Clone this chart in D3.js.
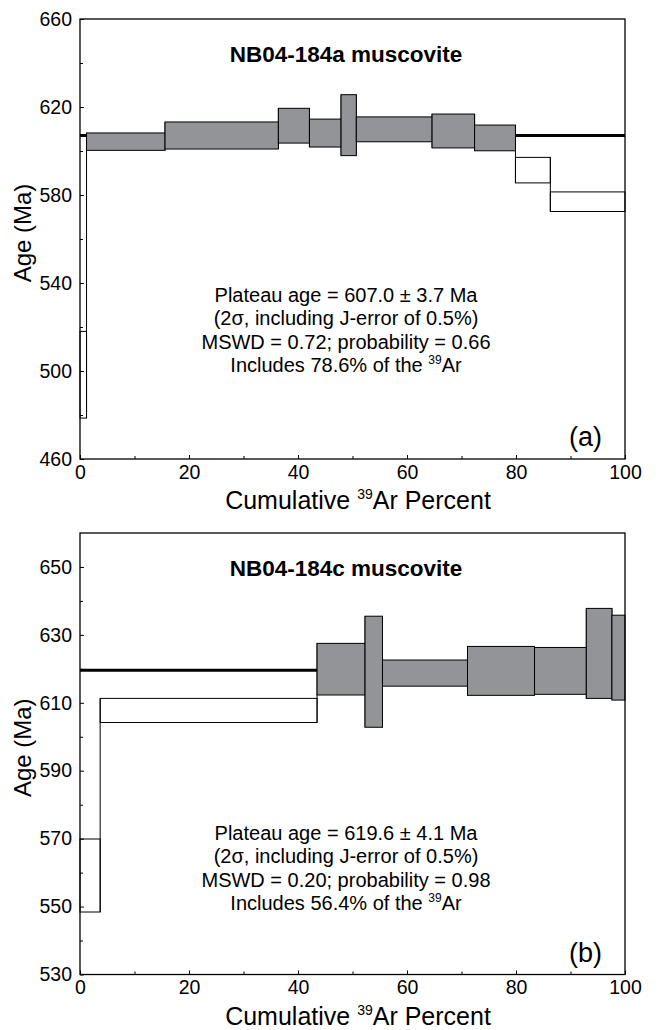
<!DOCTYPE html>
<html>
<head>
<meta charset="utf-8">
<script src="https://cdnjs.cloudflare.com/ajax/libs/d3/7.8.5/d3.min.js"></script>
<style>
  body { margin: 0; background: #fff; }
  svg { display: block; font-family: "Liberation Sans", Arial, sans-serif; }
</style>
</head>
<body>
<svg id="chart"></svg>
<script>
// ---- panel (a) ----
let topTitle = 'NB04-184a muscovite';
let topCum = [0, 1.2, 15.6, 36.4, 42.1, 47.9, 50.7, 64.6, 72.4, 79.9, 86.3, 100];
let topLow = [478.6, 600.3, 600.9, 603.6, 601.8, 597.9, 604.2, 601.4, 600.1, 585.5, 572.5];
let topHigh = [518.0, 608.2, 613.2, 619.4, 614.5, 625.6, 615.5, 616.8, 611.8, 597.1, 581.4];
let topPlateauSteps = [false, true, true, true, true, true, true, true, true, false, false];
let topPlateauAge = 607.0;
let topYDomain = [460, 660];
let topYTicks = [460, 500, 540, 580, 620, 660];
let topYMinor = [480, 520, 560, 600, 640];
let topNotes = ['Plateau age = 607.0 \u00b1 3.7 Ma', '(2\u03c3, including J-error of 0.5%)', 'MSWD = 0.72; probability = 0.66', 'Includes 78.6% of the '];
let topTag = '(a)';

// ---- panel (b) ----
let botTitle = 'NB04-184c muscovite';
let botCum = [0, 3.7, 43.5, 52.3, 55.5, 71.1, 83.4, 92.9, 97.6, 100];
let botLow = [548.4, 604.2, 612.3, 602.8, 614.9, 612.2, 612.5, 611.3, 610.8];
let botHigh = [569.9, 611.3, 627.5, 635.5, 622.6, 626.6, 626.3, 637.8, 635.8];
let botPlateauSteps = [false, false, true, true, true, true, true, true, true];
let botPlateauAge = 619.6;
let botYDomain = [530, 660];
let botYTicks = [530, 550, 570, 590, 610, 630, 650];
let botYMinor = [540, 560, 580, 600, 620, 640];
let botNotes = ['Plateau age = 619.6 \u00b1 4.1 Ma', '(2\u03c3, including J-error of 0.5%)', 'MSWD = 0.20; probability = 0.98', 'Includes 56.4% of the '];
let botTag = '(b)';

// shared x axis
let xTicks = [0, 20, 40, 60, 80, 100];
let xMinor = [10, 30, 50, 70, 90];

let width = 659;
let height = 1030;
let left = 80;
let right = 625;
let grey = '#939497';

let svg = d3.select('#chart')
    .attr('width', width)
    .attr('height', height);

let drawPanel = (p) => {
    let g = svg.append('g');

    let xScale = d3.scaleLinear().domain([0, 100]).range([left, right]);
    let yScale = d3.scaleLinear().domain(p.yDomain).range([p.bottom, p.top]);

    let steps = p.low.map((lo, i) => ({
        x0: p.cum[i], x1: p.cum[i + 1], lo: lo, hi: p.high[i], plateau: p.plateau[i]
    }));

    // plateau age line, sits under the boxes
    g.append('line')
     .attr('x1', xScale(0)).attr('x2', xScale(100))
     .attr('y1', yScale(p.age)).attr('y2', yScale(p.age))
     .attr('stroke', '#000').attr('stroke-width', 3);

    // vertical risers between neighbouring steps
    g.selectAll('.riser')
     .data(steps.slice(1))
     .join('line')
     .attr('x1', d => xScale(d.x0)).attr('x2', d => xScale(d.x0))
     .attr('y1', (d, i) => yScale(Math.min(d.lo, steps[i].lo)))
     .attr('y2', (d, i) => yScale(Math.max(d.hi, steps[i].hi)))
     .attr('stroke', '#000').attr('stroke-width', 1);

    g.selectAll('.step')
     .data(steps)
     .join('rect')
     .attr('x', d => xScale(d.x0))
     .attr('width', d => xScale(d.x1) - xScale(d.x0))
     .attr('y', d => yScale(d.hi))
     .attr('height', d => yScale(d.lo) - yScale(d.hi))
     .attr('fill', d => d.plateau ? grey : 'none')
     .attr('stroke', '#000').attr('stroke-width', 1);

    // frame
    g.append('rect')
     .attr('x', left).attr('y', p.top)
     .attr('width', right - left).attr('height', p.bottom - p.top)
     .attr('fill', 'none').attr('stroke', '#000').attr('stroke-width', 1.3);

    // y axis ticks (inside) and labels
    let yAxis = d3.axisLeft(yScale).tickValues(p.yTicks).tickSize(-4).tickPadding(8).tickFormat(d3.format('d'));
    let ya = g.append('g').attr('transform', `translate(${left},0)`).call(yAxis);
    ya.select('.domain').remove();
    ya.selectAll('text').attr('font-size', 19.5).attr('font-family', 'Liberation Sans, Arial, sans-serif').attr('fill', '#000');
    let yMinor = d3.axisLeft(yScale).tickValues(p.yMinor).tickSize(-3).tickFormat('');
    g.append('g').attr('transform', `translate(${left},0)`).call(yMinor).select('.domain').remove();

    // x axis
    let xAxis = d3.axisBottom(xScale).tickValues(xTicks).tickSize(-4).tickPadding(6);
    let xa = g.append('g').attr('transform', `translate(0,${p.bottom})`).call(xAxis);
    xa.select('.domain').remove();
    xa.selectAll('text').attr('font-size', 19.5).attr('font-family', 'Liberation Sans, Arial, sans-serif').attr('fill', '#000');
    let xMinorAxis = d3.axisBottom(xScale).tickValues(xMinor).tickSize(-3).tickFormat('');
    g.append('g').attr('transform', `translate(0,${p.bottom})`).call(xMinorAxis).select('.domain').remove();

    // axis titles
    let xt = g.append('text')
     .attr('x', 358).attr('y', p.bottom + 50)
     .attr('text-anchor', 'middle').attr('font-size', 25);
    xt.append('tspan').text('Cumulative ');
    xt.append('tspan').attr('font-size', 14).attr('dy', -10).text('39');
    xt.append('tspan').attr('dy', 10).text('Ar Percent');

    g.append('text')
     .attr('transform', `translate(31,${(p.top + p.bottom) / 2 - 6}) rotate(-90)`)
     .attr('text-anchor', 'middle').attr('font-size', 24)
     .text('Age (Ma)');

    // sample title
    g.append('text')
     .attr('x', 346).attr('y', p.top + 43)
     .attr('text-anchor', 'middle').attr('font-size', 22.5).attr('font-weight', 'bold')
     .text(p.title);

    // plateau notes
    p.notes.forEach((line, i) => {
        let t = g.append('text')
         .attr('x', 346).attr('y', p.noteY + i * 23.3)
         .attr('text-anchor', 'middle').attr('font-size', 20);
        t.append('tspan').text(line);
        if (i === 3) {
            t.append('tspan').attr('font-size', 12).attr('dy', -8).text('39');
            t.append('tspan').attr('dy', 8).text('Ar');
        }
    });

    g.append('text')
     .attr('x', 602).attr('y', p.bottom - 13)
     .attr('text-anchor', 'end').attr('font-size', 27)
     .text(p.tag);
};

drawPanel({
    title: topTitle, cum: topCum, low: topLow, high: topHigh, plateau: topPlateauSteps,
    age: topPlateauAge, yDomain: topYDomain, yTicks: topYTicks, yMinor: topYMinor,
    notes: topNotes, tag: topTag, top: 19, bottom: 459, noteY: 302
});

drawPanel({
    title: botTitle, cum: botCum, low: botLow, high: botHigh, plateau: botPlateauSteps,
    age: botPlateauAge, yDomain: botYDomain, yTicks: botYTicks, yMinor: botYMinor,
    notes: botNotes, tag: botTag, top: 533, bottom: 974.5, noteY: 840
});
</script>
</body>
</html>
